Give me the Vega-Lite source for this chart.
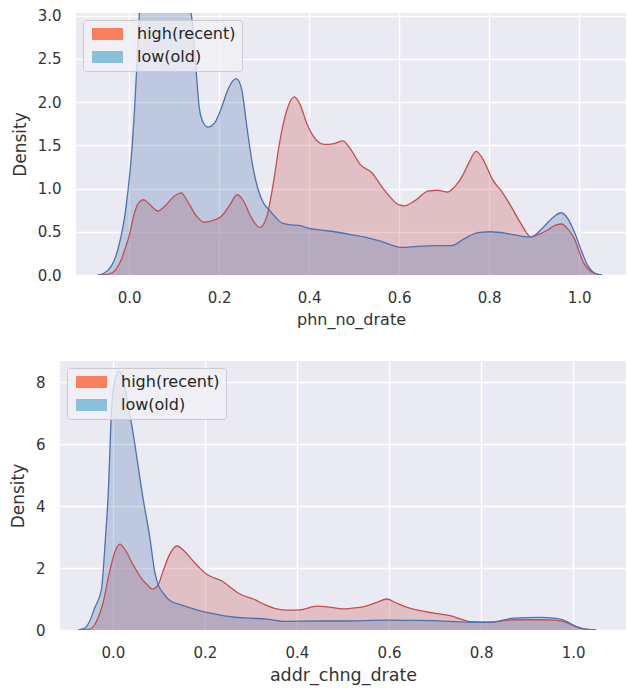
{
  "$schema": "https://vega.github.io/schema/vega-lite/v6.json",
  "background": "white",
  "padding": {"left": 9, "top": 8, "right": 0, "bottom": 6},
  "spacing": 34,
  "config": {
    "font": "DejaVu Sans",
    "view": {"fill": "#EAEAF2", "stroke": null},
    "axis": {"domain": false, "ticks": false, "grid": true, "gridColor": "#FFFFFF", "gridWidth": 1.4, "labelFont": "DejaVu Sans", "labelFontSize": 15, "labelColor": "#333333", "titleFont": "DejaVu Sans", "titleFontSize": 16.5, "titleFontWeight": "normal", "titleColor": "#333333", "labelPadding": 15},
    "axisX": {"titlePadding": 6},
    "axisY": {"titlePadding": 8}
  },
  "resolve": {"scale": {"color": "independent"}, "legend": {"color": "independent"}},
  "datasets": {
    "phn": [
      {"group":"high(recent)","x":-0.06,"density":0},{"group":"high(recent)","x":-0.045,"density":0.01},{"group":"high(recent)","x":-0.03,"density":0.06},{"group":"high(recent)","x":-0.018,"density":0.17},{"group":"high(recent)","x":-0.008,"density":0.32},{"group":"high(recent)","x":0,"density":0.45},{"group":"high(recent)","x":0.012,"density":0.72},{"group":"high(recent)","x":0.022,"density":0.84},{"group":"high(recent)","x":0.032,"density":0.87},{"group":"high(recent)","x":0.045,"density":0.82},{"group":"high(recent)","x":0.064,"density":0.74},{"group":"high(recent)","x":0.08,"density":0.8},{"group":"high(recent)","x":0.1,"density":0.91},{"group":"high(recent)","x":0.116,"density":0.95},{"group":"high(recent)","x":0.13,"density":0.85},{"group":"high(recent)","x":0.15,"density":0.68},{"group":"high(recent)","x":0.167,"density":0.61},{"group":"high(recent)","x":0.185,"density":0.63},{"group":"high(recent)","x":0.205,"density":0.68},{"group":"high(recent)","x":0.225,"density":0.82},{"group":"high(recent)","x":0.24,"density":0.93},{"group":"high(recent)","x":0.255,"density":0.85},{"group":"high(recent)","x":0.27,"density":0.68},{"group":"high(recent)","x":0.29,"density":0.55},{"group":"high(recent)","x":0.305,"density":0.66},{"group":"high(recent)","x":0.32,"density":1.05},{"group":"high(recent)","x":0.335,"density":1.55},{"group":"high(recent)","x":0.35,"density":1.9},{"group":"high(recent)","x":0.367,"density":2.06},{"group":"high(recent)","x":0.38,"density":1.97},{"group":"high(recent)","x":0.395,"density":1.75},{"group":"high(recent)","x":0.41,"density":1.6},{"group":"high(recent)","x":0.434,"density":1.51},{"group":"high(recent)","x":0.455,"density":1.52},{"group":"high(recent)","x":0.475,"density":1.55},{"group":"high(recent)","x":0.49,"density":1.47},{"group":"high(recent)","x":0.515,"density":1.27},{"group":"high(recent)","x":0.54,"density":1.18},{"group":"high(recent)","x":0.56,"density":1.03},{"group":"high(recent)","x":0.58,"density":0.9},{"group":"high(recent)","x":0.6,"density":0.81},{"group":"high(recent)","x":0.612,"density":0.8},{"group":"high(recent)","x":0.635,"density":0.86},{"group":"high(recent)","x":0.664,"density":0.97},{"group":"high(recent)","x":0.685,"density":0.98},{"group":"high(recent)","x":0.708,"density":0.96},{"group":"high(recent)","x":0.725,"density":1.03},{"group":"high(recent)","x":0.74,"density":1.14},{"group":"high(recent)","x":0.755,"density":1.3},{"group":"high(recent)","x":0.771,"density":1.43},{"group":"high(recent)","x":0.785,"density":1.35},{"group":"high(recent)","x":0.808,"density":1.1},{"group":"high(recent)","x":0.83,"density":0.95},{"group":"high(recent)","x":0.849,"density":0.79},{"group":"high(recent)","x":0.87,"density":0.6},{"group":"high(recent)","x":0.893,"density":0.44},{"group":"high(recent)","x":0.91,"density":0.47},{"group":"high(recent)","x":0.93,"density":0.52},{"group":"high(recent)","x":0.945,"density":0.57},{"group":"high(recent)","x":0.96,"density":0.59},{"group":"high(recent)","x":0.975,"density":0.53},{"group":"high(recent)","x":0.99,"density":0.41},{"group":"high(recent)","x":1.0,"density":0.27},{"group":"high(recent)","x":1.01,"density":0.14},{"group":"high(recent)","x":1.02,"density":0.07},{"group":"high(recent)","x":1.033,"density":0.02},{"group":"high(recent)","x":1.05,"density":0},
      {"group":"low(old)","x":-0.07,"density":0},{"group":"low(old)","x":-0.056,"density":0.02},{"group":"low(old)","x":-0.04,"density":0.1},{"group":"low(old)","x":-0.03,"density":0.21},{"group":"low(old)","x":-0.02,"density":0.4},{"group":"low(old)","x":-0.01,"density":0.67},{"group":"low(old)","x":-0.002,"density":1.0},{"group":"low(old)","x":0.005,"density":1.37},{"group":"low(old)","x":0.012,"density":1.91},{"group":"low(old)","x":0.018,"density":2.5},{"group":"low(old)","x":0.023,"density":3.05},{"group":"low(old)","x":0.03,"density":3.5},{"group":"low(old)","x":0.05,"density":3.8},{"group":"low(old)","x":0.08,"density":3.8},{"group":"low(old)","x":0.11,"density":3.7},{"group":"low(old)","x":0.13,"density":3.3},{"group":"low(old)","x":0.138,"density":3.03},{"group":"low(old)","x":0.147,"density":2.5},{"group":"low(old)","x":0.156,"density":1.93},{"group":"low(old)","x":0.165,"density":1.76},{"group":"low(old)","x":0.175,"density":1.71},{"group":"low(old)","x":0.19,"density":1.76},{"group":"low(old)","x":0.205,"density":1.93},{"group":"low(old)","x":0.22,"density":2.15},{"group":"low(old)","x":0.238,"density":2.27},{"group":"low(old)","x":0.25,"density":2.15},{"group":"low(old)","x":0.262,"density":1.7},{"group":"low(old)","x":0.275,"density":1.25},{"group":"low(old)","x":0.286,"density":1.0},{"group":"low(old)","x":0.3,"density":0.82},{"group":"low(old)","x":0.31,"density":0.76},{"group":"low(old)","x":0.325,"density":0.67},{"group":"low(old)","x":0.34,"density":0.6},{"group":"low(old)","x":0.36,"density":0.58},{"group":"low(old)","x":0.38,"density":0.57},{"group":"low(old)","x":0.4,"density":0.54},{"group":"low(old)","x":0.427,"density":0.52},{"group":"low(old)","x":0.456,"density":0.5},{"group":"low(old)","x":0.49,"density":0.47},{"group":"low(old)","x":0.53,"density":0.43},{"group":"low(old)","x":0.56,"density":0.39},{"group":"low(old)","x":0.604,"density":0.32},{"group":"low(old)","x":0.64,"density":0.33},{"group":"low(old)","x":0.678,"density":0.34},{"group":"low(old)","x":0.716,"density":0.34},{"group":"low(old)","x":0.745,"density":0.42},{"group":"low(old)","x":0.775,"density":0.49},{"group":"low(old)","x":0.804,"density":0.5},{"group":"low(old)","x":0.84,"density":0.48},{"group":"low(old)","x":0.87,"density":0.45},{"group":"low(old)","x":0.893,"density":0.44},{"group":"low(old)","x":0.92,"density":0.55},{"group":"low(old)","x":0.945,"density":0.68},{"group":"low(old)","x":0.96,"density":0.72},{"group":"low(old)","x":0.975,"density":0.65},{"group":"low(old)","x":0.99,"density":0.49},{"group":"low(old)","x":1.005,"density":0.28},{"group":"low(old)","x":1.02,"density":0.1},{"group":"low(old)","x":1.035,"density":0.02},{"group":"low(old)","x":1.05,"density":0}
    ],
    "addr": [
      {"group":"high(recent)","x":-0.065,"density":0},{"group":"high(recent)","x":-0.05,"density":0.03},{"group":"high(recent)","x":-0.035,"density":0.3},{"group":"high(recent)","x":-0.022,"density":0.84},{"group":"high(recent)","x":-0.007,"density":1.9},{"group":"high(recent)","x":0.005,"density":2.55},{"group":"high(recent)","x":0.015,"density":2.77},{"group":"high(recent)","x":0.028,"density":2.55},{"group":"high(recent)","x":0.043,"density":2.13},{"group":"high(recent)","x":0.063,"density":1.65},{"group":"high(recent)","x":0.075,"density":1.45},{"group":"high(recent)","x":0.085,"density":1.32},{"group":"high(recent)","x":0.097,"density":1.42},{"group":"high(recent)","x":0.109,"density":1.9},{"group":"high(recent)","x":0.122,"density":2.4},{"group":"high(recent)","x":0.139,"density":2.71},{"group":"high(recent)","x":0.155,"density":2.55},{"group":"high(recent)","x":0.174,"density":2.23},{"group":"high(recent)","x":0.19,"density":1.98},{"group":"high(recent)","x":0.204,"density":1.8},{"group":"high(recent)","x":0.22,"density":1.68},{"group":"high(recent)","x":0.237,"density":1.58},{"group":"high(recent)","x":0.255,"density":1.38},{"group":"high(recent)","x":0.276,"density":1.16},{"group":"high(recent)","x":0.305,"density":1.0},{"group":"high(recent)","x":0.33,"density":0.82},{"group":"high(recent)","x":0.356,"density":0.68},{"group":"high(recent)","x":0.38,"density":0.64},{"group":"high(recent)","x":0.406,"density":0.65},{"group":"high(recent)","x":0.443,"density":0.77},{"group":"high(recent)","x":0.47,"density":0.74},{"group":"high(recent)","x":0.5,"density":0.68},{"group":"high(recent)","x":0.53,"density":0.72},{"group":"high(recent)","x":0.55,"density":0.77},{"group":"high(recent)","x":0.575,"density":0.9},{"group":"high(recent)","x":0.595,"density":1.0},{"group":"high(recent)","x":0.615,"density":0.88},{"group":"high(recent)","x":0.638,"density":0.74},{"group":"high(recent)","x":0.665,"density":0.63},{"group":"high(recent)","x":0.696,"density":0.55},{"group":"high(recent)","x":0.733,"density":0.46},{"group":"high(recent)","x":0.755,"density":0.36},{"group":"high(recent)","x":0.776,"density":0.27},{"group":"high(recent)","x":0.82,"density":0.25},{"group":"high(recent)","x":0.85,"density":0.3},{"group":"high(recent)","x":0.87,"density":0.33},{"group":"high(recent)","x":0.928,"density":0.33},{"group":"high(recent)","x":0.96,"density":0.32},{"group":"high(recent)","x":0.978,"density":0.28},{"group":"high(recent)","x":0.995,"density":0.18},{"group":"high(recent)","x":1.008,"density":0.1},{"group":"high(recent)","x":1.03,"density":0.02},{"group":"high(recent)","x":1.05,"density":0},
      {"group":"low(old)","x":-0.075,"density":0},{"group":"low(old)","x":-0.062,"density":0.05},{"group":"low(old)","x":-0.05,"density":0.3},{"group":"low(old)","x":-0.04,"density":0.7},{"group":"low(old)","x":-0.025,"density":1.3},{"group":"low(old)","x":-0.017,"density":2.8},{"group":"low(old)","x":-0.01,"density":4.45},{"group":"low(old)","x":-0.003,"density":7.1},{"group":"low(old)","x":0.005,"density":8.1},{"group":"low(old)","x":0.013,"density":8.35},{"group":"low(old)","x":0.022,"density":8.1},{"group":"low(old)","x":0.03,"density":7.5},{"group":"low(old)","x":0.041,"density":6.6},{"group":"low(old)","x":0.066,"density":4.2},{"group":"low(old)","x":0.08,"density":3.0},{"group":"low(old)","x":0.091,"density":1.87},{"group":"low(old)","x":0.1,"density":1.4},{"group":"low(old)","x":0.109,"density":1.2},{"group":"low(old)","x":0.124,"density":0.95},{"group":"low(old)","x":0.15,"density":0.8},{"group":"low(old)","x":0.19,"density":0.62},{"group":"low(old)","x":0.22,"density":0.52},{"group":"low(old)","x":0.26,"density":0.42},{"group":"low(old)","x":0.3,"density":0.38},{"group":"low(old)","x":0.335,"density":0.35},{"group":"low(old)","x":0.37,"density":0.28},{"group":"low(old)","x":0.45,"density":0.29},{"group":"low(old)","x":0.5,"density":0.29},{"group":"low(old)","x":0.595,"density":0.32},{"group":"low(old)","x":0.65,"density":0.31},{"group":"low(old)","x":0.696,"density":0.3},{"group":"low(old)","x":0.776,"density":0.25},{"group":"low(old)","x":0.82,"density":0.25},{"group":"low(old)","x":0.87,"density":0.38},{"group":"low(old)","x":0.928,"density":0.41},{"group":"low(old)","x":0.96,"density":0.38},{"group":"low(old)","x":0.978,"density":0.33},{"group":"low(old)","x":0.995,"density":0.2},{"group":"low(old)","x":1.008,"density":0.1},{"group":"low(old)","x":1.03,"density":0.02},{"group":"low(old)","x":1.05,"density":0}
    ]
  },
  "vconcat": [
    {
      "spacing": -50,
      "resolve": {"scale": {"color": "independent"}, "legend": {"color": "independent"}},
      "hconcat": [
        {
          "width": 1, "height": 1,
          "view": {"fill": null, "stroke": null},
          "data": {"values": []},
          "mark": {"type": "point", "opacity": 0},
          "encoding": {}
        },
        {
          "width": 550, "height": 262,
          "data": {"name": "phn"},
          "encoding": {
            "x": {"field": "x", "type": "quantitative", "scale": {"domain": [-0.118, 1.104], "nice": false, "zero": false}, "axis": {"values": [0, 0.2, 0.4, 0.6, 0.8, 1.0], "format": ".1f", "title": "phn_no_drate", "titleFontSize": 16}},
            "y": {"field": "density", "type": "quantitative", "stack": null, "scale": {"domain": [0, 3.03], "nice": false, "zero": true}, "axis": {"values": [0, 0.5, 1, 1.5, 2, 2.5, 3], "format": ".1f", "title": "Density", "titleFontSize": 17}}
          },
          "layer": [
            {"transform": [{"filter": "datum.group === 'high(recent)'"}],
             "mark": {"type": "area", "clip": true, "color": "#C44E52", "fillOpacity": 0.28, "interpolate": "monotone"}},
            {"transform": [{"filter": "datum.group === 'low(old)'"}],
             "mark": {"type": "area", "clip": true, "color": "#4C72B0", "fillOpacity": 0.28, "interpolate": "monotone"}},
            {"transform": [{"filter": "datum.group === 'high(recent)'"}],
             "mark": {"type": "line", "clip": true, "interpolate": "monotone", "color": "#C44E52", "strokeWidth": 1.3}},
            {"transform": [{"filter": "datum.group === 'low(old)'"}],
             "mark": {"type": "line", "clip": true, "interpolate": "monotone", "color": "#4C72B0", "strokeWidth": 1.3}},
            {"transform": [{"filter": "datum.density < 0"}],
             "mark": {"type": "point", "filled": true, "clip": true},
             "encoding": {"color": {"field": "group", "type": "nominal", "scale": {"domain": ["high(recent)", "low(old)"], "range": ["#F8805F", "#8AC1DA"]},
               "legend": {"title": null, "orient": "top-left", "offset": 7, "symbolType": "M-0.83,-1H4.33V1H-0.83Z", "symbolSize": 144, "symbolStrokeWidth": 0, "symbolOpacity": 1, "labelFont": "DejaVu Sans", "labelFontSize": 16, "labelColor": "#262626", "labelOffset": 32, "padding": 6, "rowPadding": 7, "fillColor": "rgba(240,240,245,0.8)", "strokeColor": "#CCCCCC", "cornerRadius": 3}}}}
          ]
        }
      ]
    },
    {
      "width": 566, "height": 269,
      "data": {"name": "addr"},
      "encoding": {
        "x": {"field": "x", "type": "quantitative", "scale": {"domain": [-0.115, 1.115], "nice": false, "zero": false}, "axis": {"values": [0, 0.2, 0.4, 0.6, 0.8, 1.0], "format": ".1f", "title": "addr_chng_drate", "titleFontSize": 17.5}},
        "y": {"field": "density", "type": "quantitative", "stack": null, "scale": {"domain": [0, 8.68], "nice": false, "zero": true}, "axis": {"values": [0, 2, 4, 6, 8], "format": "d", "title": "Density", "titleFontSize": 17}}
      },
      "layer": [
        {"transform": [{"filter": "datum.group === 'high(recent)'"}],
         "mark": {"type": "area", "clip": true, "color": "#C44E52", "fillOpacity": 0.28, "interpolate": "monotone"}},
        {"transform": [{"filter": "datum.group === 'low(old)'"}],
         "mark": {"type": "area", "clip": true, "color": "#4C72B0", "fillOpacity": 0.28, "interpolate": "monotone"}},
        {"transform": [{"filter": "datum.group === 'high(recent)'"}],
         "mark": {"type": "line", "clip": true, "interpolate": "monotone", "color": "#C44E52", "strokeWidth": 1.3}},
        {"transform": [{"filter": "datum.group === 'low(old)'"}],
         "mark": {"type": "line", "clip": true, "interpolate": "monotone", "color": "#4C72B0", "strokeWidth": 1.3}},
        {"transform": [{"filter": "datum.density < 0"}],
         "mark": {"type": "point", "filled": true, "clip": true},
         "encoding": {"color": {"field": "group", "type": "nominal", "scale": {"domain": ["high(recent)", "low(old)"], "range": ["#F8805F", "#8AC1DA"]},
           "legend": {"title": null, "orient": "top-left", "offset": 7, "symbolType": "M-0.83,-1H4.33V1H-0.83Z", "symbolSize": 144, "symbolStrokeWidth": 0, "symbolOpacity": 1, "labelFont": "DejaVu Sans", "labelFontSize": 16, "labelColor": "#262626", "labelOffset": 32, "padding": 6, "rowPadding": 7, "fillColor": "rgba(240,240,245,0.8)", "strokeColor": "#CCCCCC", "cornerRadius": 3}}}}
      ]
    }
  ]
}
